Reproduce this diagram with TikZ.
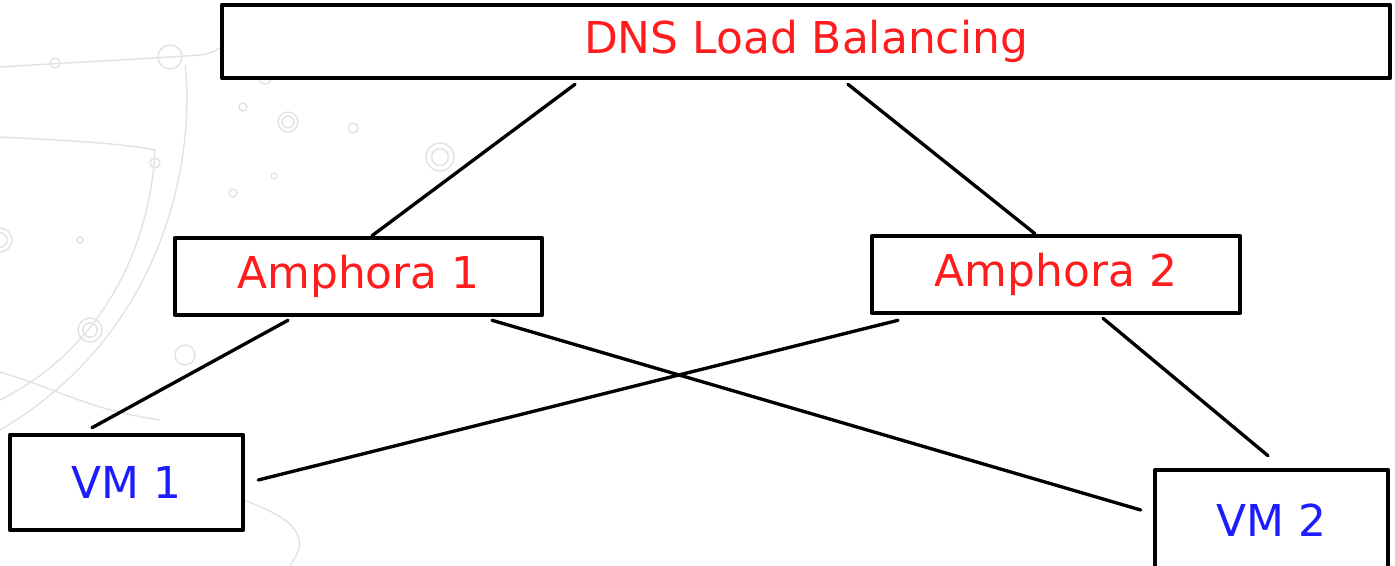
\documentclass[tikz,border=0pt]{standalone}
\usepackage{fontspec}
\setmainfont{DejaVu Sans}
\usetikzlibrary{calc}
\definecolor{lbred}{RGB}{255,28,28}
\definecolor{vmblue}{RGB}{28,28,255}
\definecolor{bgline}{RGB}{226,226,226}
\begin{document}
\begin{tikzpicture}[x=0.02cm, y=-0.02cm, line join=round,
	box/.style={draw, line width=2.6pt, inner sep=0pt, fill=white, font=\fontsize{25}{29}\selectfont},
	link/.style={line width=1.9pt, line cap=round},
	deco/.style={bgline, line width=0.8pt}]
	\useasboundingbox (0,0) rectangle (1395,565);
	% faint background decoration
	\draw[deco] (0,67) .. controls (80,62) and (160,58) .. (200,55) .. controls (215,53) and (220,48) .. (225,44);
	\draw[deco] (185,65) .. controls (195,150) and (170,330) .. (0,430);
	\draw[deco] (0,137) .. controls (60,140) and (120,143) .. (155,150) .. controls (150,250) and (100,350) .. (0,400);
	\draw[deco] (0,372) .. controls (60,390) and (90,410) .. (160,420);
	\draw[deco] (243,500) .. controls (300,520) and (310,540) .. (290,565);
	\foreach \cx/\cy/\r in {55/63/5, 170/57/12, 265/78/6, 243/107/4, 353/128/5, 274/176/3, 233/193/4, 80/240/3, 155/163/5, 185/355/10}
		\draw[deco] (\cx,\cy) circle[radius=\r];
	\foreach \cx/\cy/\r in {288/122/10, 440/157/14, 90/330/12, 0/240/12}{
		\draw[deco] (\cx,\cy) circle[radius=\r];
		\draw[deco] (\cx,\cy) circle[radius=0.6*\r];}
	% boxes
	\node[box, minimum width=23.36cm, minimum height=1.46cm, text=lbred] (dns) at (806,41.5) {DNS Load Balancing};
	\node[box, minimum width=7.34cm, minimum height=1.54cm, text=lbred] (amph1) at (358.5,276.5) {Amphora 1};
	\node[box, minimum width=7.36cm, minimum height=1.54cm, text=lbred] (amph2) at (1056,274.5) {Amphora 2};
	\node[box, minimum width=4.66cm, minimum height=1.9cm, text=vmblue] (vm1) at (126.5,482.5) {VM 1};
	\node[box, minimum width=4.66cm, minimum height=2cm, text=vmblue] (vm2) at (1271.5,520) {VM 2};
	% connections
	\draw[link] ($(dns.south)+(-231,4)$) -- ($(amph1.north)+(13.5,0)$);
	\draw[link] ($(dns.south)+(42,4)$) -- ($(amph2.north)+(-21,0)$);
	\draw[link] ($(amph1.south)+(-70.5,3)$) -- ($(vm1.north)+(-34.5,-5)$);
	\draw[link] ($(amph1.south)+(133.5,3)$) -- ($(vm2.west)+(-12,-10)$);
	\draw[link] ($(amph2.south)+(-158,5)$) -- ($(vm1.east)+(13,-2.5)$);
	\draw[link] ($(amph2.south)+(47,3)$) -- ($(vm2.north)+(-3.5,-12)$);
\end{tikzpicture}
\end{document}
